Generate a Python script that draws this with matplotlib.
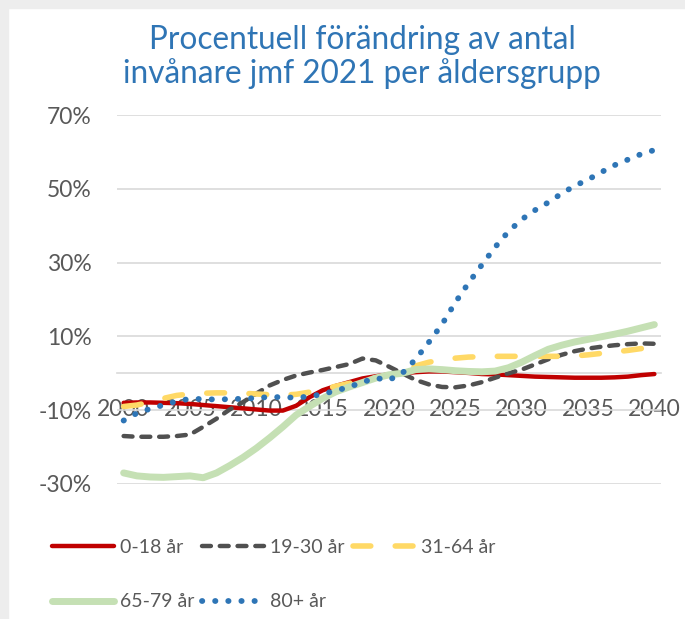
import matplotlib
matplotlib.use("Agg")
import matplotlib.pyplot as plt
from matplotlib.patches import Rectangle

plt.rcParams['font.family'] = ['Lato', 'DejaVu Sans']

years = list(range(2000, 2041))

age_0_18 = [-8.0, -7.9, -7.9, -8.0, -8.1, -8.3, -8.6, -8.9, -9.2, -9.5,
            -9.8, -10.1, -10.1, -8.8, -6.5, -4.6, -3.4, -2.4, -1.4, -0.8,
            -0.3, 0.0, 0.3, 0.5, 0.5, 0.3, 0.1, -0.2, -0.3, -0.5,
            -0.7, -0.9, -1.0, -1.1, -1.2, -1.2, -1.2, -1.1, -0.9, -0.5, -0.2]

age_19_30 = [-17.0, -17.2, -17.2, -17.2, -17.0, -16.6, -14.5, -12.3, -9.8, -7.8,
             -5.5, -3.3, -1.8, -0.6, 0.2, 0.9, 1.7, 2.5, 4.0, 3.5,
             1.8, 0.0, -1.8, -3.0, -3.7, -3.8, -3.3, -2.4, -1.2, 0.0,
             1.0, 2.4, 3.8, 5.0, 6.0, 6.7, 7.2, 7.6, 7.9, 8.1, 8.0]

age_31_64 = [-9.0, -8.6, -7.8, -6.8, -6.0, -5.6, -5.4, -5.3, -5.3, -5.4,
             -5.6, -5.8, -5.9, -5.7, -5.1, -4.3, -3.5, -2.7, -1.9, -1.2,
             -0.5, 0.0, 2.0, 3.0, 3.7, 4.1, 4.4, 4.5, 4.6, 4.6,
             4.6, 4.6, 4.6, 4.6, 4.7, 5.0, 5.4, 5.8, 6.2, 6.7, 7.2]

age_65_79 = [-27.0, -27.8, -28.1, -28.2, -28.0, -27.8, -28.3, -27.0, -25.0, -22.8,
             -20.3, -17.5, -14.5, -11.3, -9.0, -6.8, -5.0, -3.7, -2.5, -1.3,
             -0.4, 0.0, 1.0, 1.2, 1.0, 0.7, 0.5, 0.4, 0.6, 1.5,
             3.0, 4.8, 6.5, 7.6, 8.5, 9.2, 9.9, 10.6, 11.4, 12.3, 13.2]

age_80_plus = [-12.8, -10.8, -9.6, -8.6, -7.6, -6.9, -7.0, -7.1, -7.0, -6.9,
               -6.7, -6.4, -6.5, -6.6, -6.3, -5.6, -4.7, -3.7, -2.4, -1.3,
               -1.8, 0.0, 3.8, 8.4, 13.3, 19.2, 24.5, 29.4, 34.2, 38.4,
               41.7, 44.2, 46.3, 48.7, 50.8, 52.5, 54.5, 56.4, 57.9, 59.4, 60.5]

series_labels = ['0-18 år', '19-30 år', '31-64 år', '65-79 år', '80+ år']
x_ticks = [2000, 2005, 2010, 2015, 2020, 2025, 2030, 2035, 2040]
y_ticks = [-30, -10, 10, 30, 50, 70]
y_tick_labels = ['-30%', '-10%', '10%', '30%', '50%', '70%']
title = 'Procentuell förändring av antal\ninvånare jmf 2021 per åldersgrupp'

W, H = 685, 619
fig = plt.figure(figsize=(W / 100, H / 100), dpi=100)
fig.patch.set_facecolor('white')
# screenshot frame
fig.patches.append(Rectangle((0, 1 - 8 / H), 1, 8 / H, transform=fig.transFigure,
                             color='#ededed', zorder=0))
fig.patches.append(Rectangle((0, 0), 8 / W, 1, transform=fig.transFigure,
                             color='#ededed', zorder=0))

ax = fig.add_axes([117 / W, (H - 484) / H, (661 - 117) / W, (484 - 115) / H])
ax.set_facecolor('none')

l_red, = ax.plot(years, age_0_18, color='#C00000', lw=3.2,
                 solid_capstyle='round', solid_joinstyle='round', zorder=3)
l_gray, = ax.plot(years, age_19_30, color='#505050', lw=3.2,
                  dashes=(2.0, 2.0), dash_capstyle='round', zorder=3)
l_yel, = ax.plot(years, age_31_64, color='#FFD966', lw=4.0,
                 dashes=(3.2, 4.4), dash_capstyle='round', zorder=3)
l_grn, = ax.plot(years, age_65_79, color='#C5E0B4', lw=5.0,
                 solid_capstyle='round', solid_joinstyle='round', zorder=3)
l_blu, = ax.plot(years, age_80_plus, color='#2E75B6', lw=4.2,
                 dashes=(0.05, 2.2), dash_capstyle='round', zorder=3)

ax.set_xlim(1999.5, 2040.5)
ax.set_ylim(-30, 70)
ax.set_yticks(y_ticks)
ax.set_yticklabels(y_tick_labels)
ax.set_xticks(x_ticks)
ax.set_xticklabels([str(v) for v in x_ticks])
ax.yaxis.grid(True, color='#D9D9D9', lw=1.2, zorder=0)
ax.set_axisbelow(True)
for s in ['top', 'right', 'left']:
    ax.spines[s].set_visible(False)
ax.spines['bottom'].set_position(('data', 0))
ax.spines['bottom'].set_color('#D9D9D9')
ax.spines['bottom'].set_linewidth(1.2)
ax.spines['bottom'].set_zorder(1)
ax.tick_params(axis='y', length=0, pad=18, labelsize=16.5, labelcolor='#595959')
ax.tick_params(axis='x', length=0, pad=18.5, labelsize=16.5, labelcolor='#595959')

fig.text(362 / W, 1 - 57 / H, title, ha='center', va='center', fontsize=22.7,
         color='#2F75B5', linespacing=1.1)

handles = [l_red, l_grn, l_gray, l_blu, l_yel]
labels = [series_labels[0], series_labels[3], series_labels[1], series_labels[4],
          series_labels[2]]
leg = fig.legend(handles, labels, loc='upper left', bbox_to_anchor=(52 / W, 1 - 539 / H),
                 ncol=3, frameon=False, fontsize=14, handlelength=3.2,
                 handletextpad=0.3, columnspacing=0.4, labelspacing=1.92,
                 borderpad=0, borderaxespad=0)
for t in leg.get_texts():
    t.set_color('#595959')

fig.savefig('out.png', dpi=100)
